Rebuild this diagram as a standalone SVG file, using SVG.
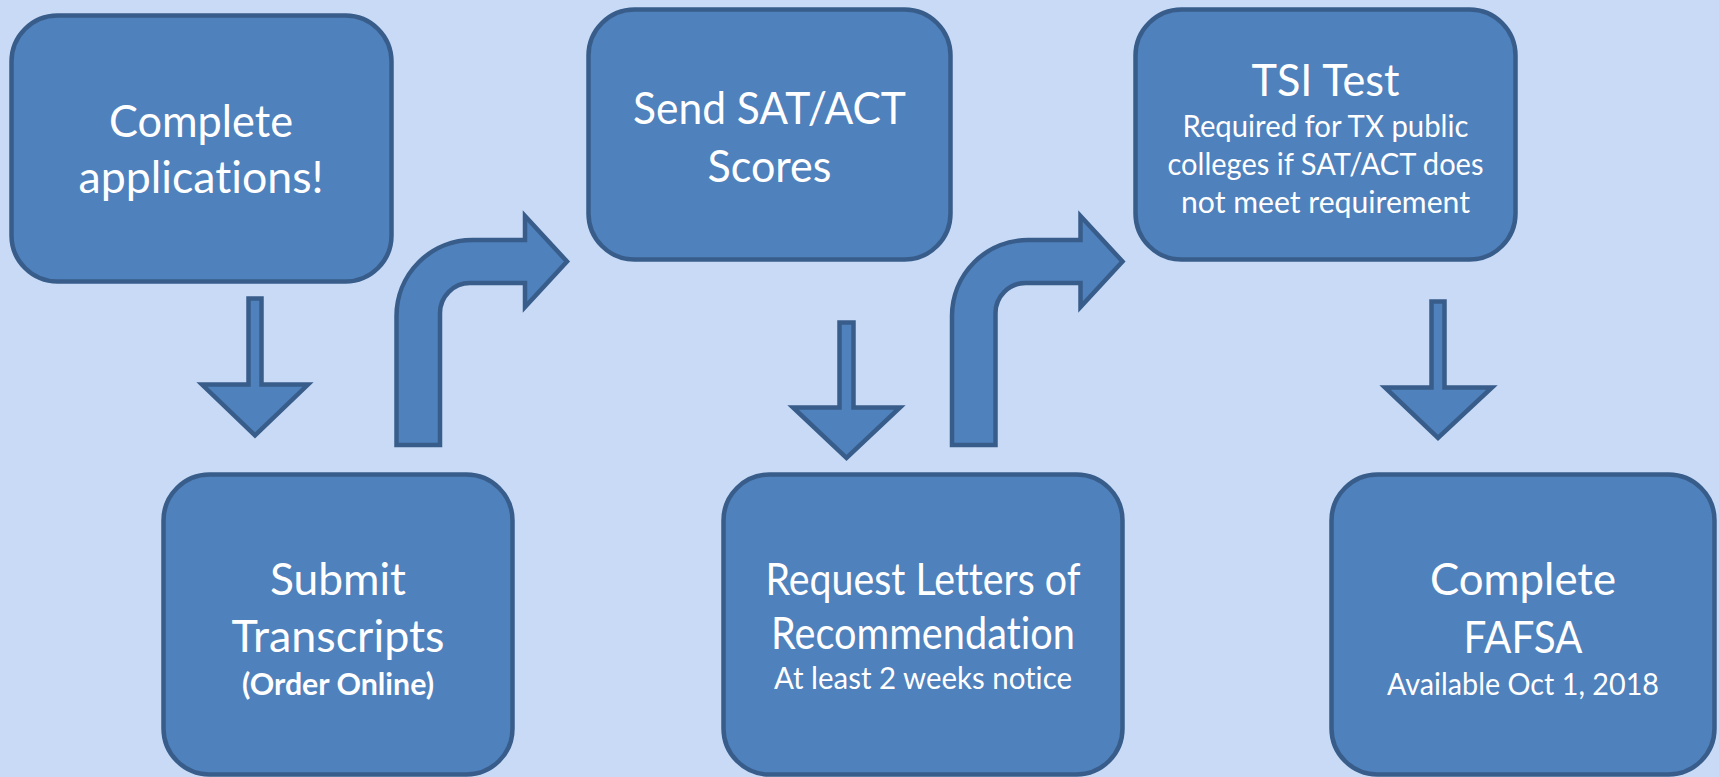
<svg xmlns="http://www.w3.org/2000/svg" width="1719" height="777" viewBox="0 0 1719 777">
<style>
.box{fill:#4f81bd;stroke:#385d8a;stroke-width:4.5}
.arr{fill:#4f81bd;stroke:#385d8a;stroke-width:4.5;stroke-linejoin:miter;stroke-miterlimit:10}
.t{font-family:Lato,"Liberation Sans",sans-serif;fill:#ffffff;text-anchor:middle;font-variant-ligatures:none}
.big{font-size:44px}
.small{font-size:30px}
.bold{font-size:30px;font-weight:bold}
</style>
<rect width="1719" height="777" fill="#c8daf6"/>
<g id="connectors">
<polygon class="arr" points="248.5,298.5 261.5,298.5 261.5,384.5 308,384.5 255,435.5 202,384.5 248.5,384.5"/>
<polygon class="arr" points="839.5,322.5 853.5,322.5 853.5,407.5 900,407.5 846.5,458 793,407.5 839.5,407.5"/>
<polygon class="arr" points="1431.5,301.5 1444.5,301.5 1444.5,387.5 1492,387.5 1438,438 1385,387.5 1431.5,387.5"/>
<path class="arr" d="M396.5,445 L396.5,316 A76,76 0 0 1 472.5,240 L525,240 L525,216 L567,261.5 L525,307 L525,283 L470,283 A30,30 0 0 0 440,313 L440,445 Z"/>
<path class="arr" d="M952,445 L952,316 A76,76 0 0 1 1028,240 L1080.5,240 L1080.5,216 L1122.5,261.5 L1080.5,307 L1080.5,283 L1025.5,283 A30,30 0 0 0 995.5,313 L995.5,445 Z"/>
</g>
<g id="node-applications">
<rect class="box" x="11.5" y="15.5" width="380" height="266" rx="46"/>
<text class="t big" x="201" y="137" textLength="184" lengthAdjust="spacingAndGlyphs">Complete</text>
<text class="t big" x="201" y="193" textLength="245" lengthAdjust="spacingAndGlyphs">applications!</text>
</g>
<g id="node-transcripts">
<rect class="box" x="163.5" y="474.5" width="349" height="300" rx="46"/>
<text class="t big" x="338" y="595" textLength="136" lengthAdjust="spacingAndGlyphs">Submit</text>
<text class="t big" x="338" y="652" textLength="213" lengthAdjust="spacingAndGlyphs">Transcripts</text>
<text class="t bold" x="338" y="695" textLength="192" lengthAdjust="spacingAndGlyphs">(Order Online)</text>
</g>
<g id="node-scores">
<rect class="box" x="588.5" y="9.5" width="362" height="250" rx="46"/>
<text class="t big" x="769.5" y="124" textLength="273" lengthAdjust="spacingAndGlyphs">Send SAT/ACT</text>
<text class="t big" x="769.5" y="182" textLength="124" lengthAdjust="spacingAndGlyphs">Scores</text>
</g>
<g id="node-letters">
<rect class="box" x="723.5" y="474.5" width="399" height="300" rx="46"/>
<text class="t big" x="923" y="595" textLength="315" lengthAdjust="spacingAndGlyphs">Request Letters of</text>
<text class="t big" x="923" y="649" textLength="304" lengthAdjust="spacingAndGlyphs">Recommendation</text>
<text class="t small" x="923" y="689" textLength="298" lengthAdjust="spacingAndGlyphs">At least 2 weeks notice</text>
</g>
<g id="node-tsi">
<rect class="box" x="1135.5" y="9.5" width="380" height="250" rx="46"/>
<text class="t big" x="1325.5" y="96" textLength="148" lengthAdjust="spacingAndGlyphs">TSI Test</text>
<text class="t small" x="1325.5" y="137" textLength="286" lengthAdjust="spacingAndGlyphs">Required for TX public</text>
<text class="t small" x="1325.5" y="175" textLength="316" lengthAdjust="spacingAndGlyphs">colleges if SAT/ACT does</text>
<text class="t small" x="1325.5" y="213" textLength="289" lengthAdjust="spacingAndGlyphs">not meet requirement</text>
</g>
<g id="node-fafsa">
<rect class="box" x="1331.5" y="474.5" width="383" height="300" rx="46"/>
<text class="t big" x="1523" y="595" textLength="186" lengthAdjust="spacingAndGlyphs">Complete</text>
<text class="t big" x="1523" y="653" textLength="119" lengthAdjust="spacingAndGlyphs">FAFSA</text>
<text class="t small" x="1523" y="695" textLength="272" lengthAdjust="spacingAndGlyphs">Available Oct 1, 2018</text>
</g>
</svg>
